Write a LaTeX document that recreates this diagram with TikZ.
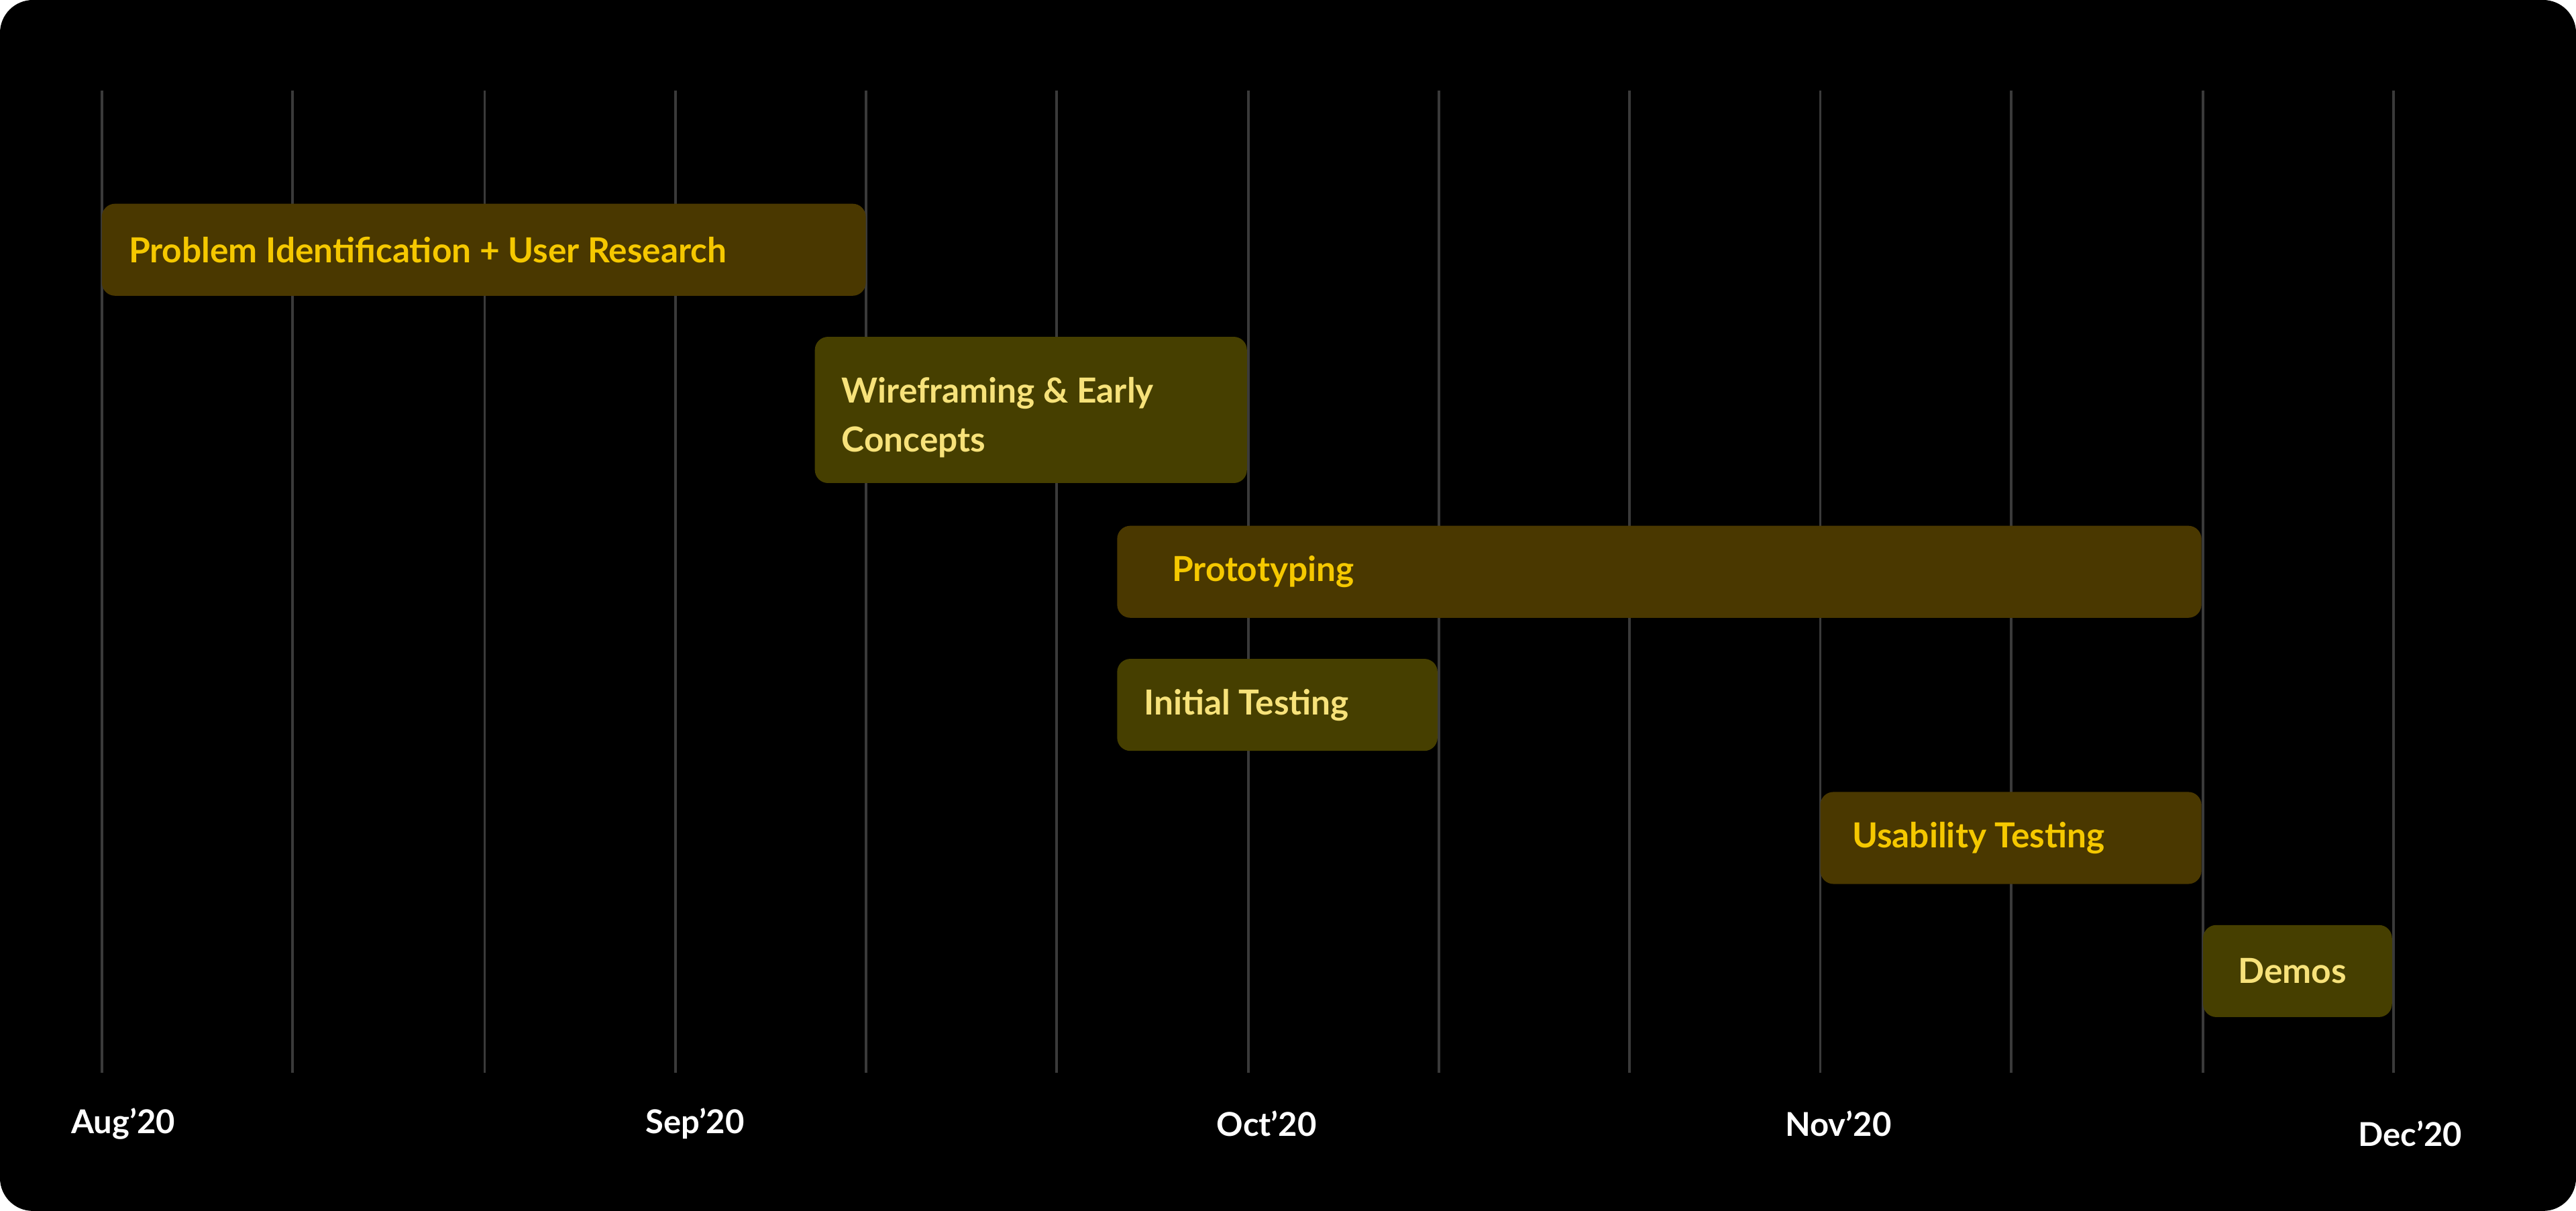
\documentclass[tikz,border=0pt]{standalone}
\usepackage{fontspec}
\setmainfont{Lato}
\definecolor{bgk}{HTML}{000000}
\definecolor{gridc}{HTML}{3A3A3A}
\definecolor{brownbar}{HTML}{4A3800}
\definecolor{olivebar}{HTML}{463F00}
\definecolor{ytext}{HTML}{F5C800}
\definecolor{ltext}{HTML}{F7E27A}
\begin{document}
\begin{tikzpicture}[x=0.5pt,y=-0.5pt,
  gridline/.style={draw=gridc,line width=0.8pt},
  barA/.style={fill=brownbar,rounded corners=4pt},
  barB/.style={fill=olivebar,rounded corners=4pt},
  txtA/.style={text=ytext,font=\bfseries\fontsize{10.5}{13}\selectfont,anchor=west,inner sep=0pt,align=left},
  txtB/.style={text=ltext,font=\bfseries\fontsize{10.5}{15}\selectfont,anchor=west,inner sep=0pt,align=left},
  month/.style={text=white,font=\bfseries\fontsize{10}{12}\selectfont,inner sep=0pt}]
\useasboundingbox (0,0) rectangle (1568,737);
\fill[white] (0,0) rectangle (1568,737);
\fill[bgk,rounded corners=10pt] (0,0) rectangle (1568,737);
\foreach \x in {62,178,295,411,527,643,760,876,992,1108,1224,1341,1457}
  \draw[gridline] (\x,55) -- (\x,653);
\fill[barA] (62,124) rectangle (527,180);
\node[txtA] (t1) at (78,152) {Problem Identification + User Research};
\fill[barB] (496,205) rectangle (759,294);
\node[txtB] (t2) at (512,254) {Wireframing \& Early\\Concepts};
\fill[barA] (680,320) rectangle (1340,376);
\node[txtA] (t3) at (713,348) {Prototyping};
\fill[barB] (680,401) rectangle (875,457);
\node[txtB] (t4) at (696,429) {Initial Testing};
\fill[barA] (1108,482) rectangle (1340,538);
\node[txtA] (t5) at (1127,510) {Usability Testing};
\fill[barB] (1341,563) rectangle (1456,619);
\node[txtB] (t6) at (1362,591) {Demos};
\node[month] (m1) at (75,684) {Aug’20};
\node[month] (m2) at (423,684) {Sep’20};
\node[month] (m3) at (771,684) {Oct’20};
\node[month] (m4) at (1119,684) {Nov’20};
\node[month] (m5) at (1467,690) {Dec’20};
\end{tikzpicture}
\end{document}
